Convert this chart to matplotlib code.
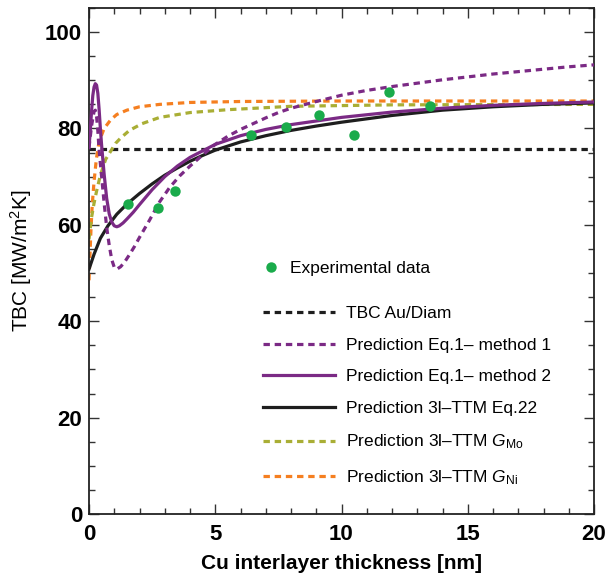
import matplotlib
matplotlib.use("Agg")
import matplotlib.pyplot as plt
from matplotlib.lines import Line2D
from matplotlib.ticker import MultipleLocator

plt.rcParams['font.family'] = ['Liberation Sans', 'DejaVu Sans']
plt.rcParams['mathtext.fontset'] = 'custom'
plt.rcParams['mathtext.rm'] = 'Liberation Sans'
plt.rcParams['mathtext.it'] = 'Liberation Sans:italic'

# ---- data ----
exp_x = [1.55, 2.75, 3.4, 6.4, 7.8, 9.1, 10.5, 11.9, 13.5]
exp_y = [64.4, 63.6, 67.0, 78.7, 80.4, 82.9, 78.7, 87.6, 84.7]

tbc_au_diam = 75.8

m1_x = [0, 0.1, 0.2, 0.25, 0.3, 0.35, 0.4, 0.5, 0.6, 0.7, 0.8, 0.9, 1.0, 1.1, 1.25, 1.4,
        1.6, 1.8, 2.0, 2.4, 2.8, 3.2, 3.6, 4.0, 4.5, 5.0, 5.5, 6.0, 6.5, 7.0, 7.5, 8.0,
        9, 10, 11, 12, 13, 14, 15, 16, 17, 18, 19, 20]
m1_y = [76, 80.5, 83.5, 83.8, 82.5, 79.5, 75.5, 70, 64.5, 59.5, 55.8, 52.8, 51.2, 50.8, 51.3, 52.2,
        53.8, 55.5, 57.4, 61, 64.8, 67.8, 70.2, 72.2, 74.5, 76.7, 78.4, 79.8, 81.0, 82.2, 83.3, 84.2,
        85.6, 86.9, 87.9, 88.7, 89.4, 90.1, 90.7, 91.3, 91.8, 92.3, 92.8, 93.2]

m2_x = [0, 0.05, 0.1, 0.15, 0.2, 0.25, 0.3, 0.35, 0.4, 0.45, 0.5, 0.6, 0.7, 0.8, 0.9, 1.0,
        1.1, 1.2, 1.35, 1.5, 1.75, 2.0, 2.5, 3.0, 3.5, 4.0, 5.0, 6.0, 7.0, 8.0, 10, 12, 14,
        16, 18, 20]
m2_y = [76, 79.5, 83.5, 86.8, 88.6, 89.3, 89, 87.3, 84, 80, 76.5, 70.5, 65.5, 62.3, 60.6, 59.8,
        59.6, 59.8, 60.4, 61.2, 62.6, 64.2, 67.3, 70, 72.2, 74, 76.7, 78.5, 79.8, 80.8, 82.3, 83.4, 84.2,
        84.8, 85.2, 85.5]

ttm_x = [0, 0.2, 0.45, 0.75, 1.1, 1.5, 2, 2.5, 3, 3.5, 4, 4.5, 5, 6, 7, 8, 9, 10, 12, 14, 16, 18, 20]
ttm_y = [50.8, 53.9, 57.2, 59.8, 62.2, 64.3, 66.5, 68.5, 70.3, 71.8, 73.2, 74.4, 75.5, 77.2, 78.5,
         79.6, 80.5, 81.3, 82.7, 83.8, 84.5, 85.0, 85.3]

gmo_x = [0, 0.1, 0.2, 0.3, 0.45, 0.66, 1.05, 1.25, 1.6, 2.1, 2.8, 4, 5.5, 8, 12, 20]
gmo_y = [57, 61.5, 64.5, 67, 70.3, 73.6, 76.9, 78, 79.6, 81, 82.3, 83.3, 83.9, 84.6, 84.9, 85.0]

gni_x = [0, 0.04, 0.08, 0.13, 0.2, 0.29, 0.4, 0.6, 0.86, 1.1, 1.5, 2, 2.8, 4, 6, 10, 20]
gni_y = [48.5, 54, 59.3, 64.3, 69, 73.6, 77.3, 80, 81.8, 82.9, 83.8, 84.5, 85.0, 85.4, 85.6, 85.7, 85.7]

labels = ["Experimental data", "TBC Au/Diam", "Prediction Eq.1\u2013 method 1",
          "Prediction Eq.1\u2013 method 2", "Prediction 3l\u2013TTM Eq.22",
          "Prediction 3l\u2013TTM $\\mathit{G}_{\\mathrm{Mo}}$",
          "Prediction 3l\u2013TTM $\\mathit{G}_{\\mathrm{Ni}}$"]

# ---- styles ----
c_black = '#1e1e1e'
c_purple = '#7b2a85'
c_olive = '#a9ae35'
c_orange = '#f57f20'
c_green = '#1aab4b'
lw = 2.3
dash = (0, (2.0, 1.5))

fig = plt.figure(figsize=(6.07, 5.78), dpi=100)
ax = fig.add_axes([89/607, 64/578, 505/607, 506/578])

ax.axhline(tbc_au_diam, color=c_black, lw=lw, ls=dash, zorder=2)
ax.plot(gni_x, gni_y, color=c_orange, lw=lw, ls=dash, zorder=2)
ax.plot(gmo_x, gmo_y, color=c_olive, lw=lw, ls=dash, zorder=2)
ax.plot(ttm_x, ttm_y, color=c_black, lw=lw, zorder=3)
ax.plot(m1_x, m1_y, color=c_purple, lw=lw, ls=dash, zorder=3)
ax.plot(m2_x, m2_y, color=c_purple, lw=lw, zorder=4)
ax.plot(exp_x, exp_y, 'o', color=c_green, ms=7.5, mec='none', zorder=5)

ax.set_xlim(0, 20)
ax.set_ylim(0, 105)
ax.xaxis.set_major_locator(MultipleLocator(5))
ax.xaxis.set_minor_locator(MultipleLocator(1))
ax.yaxis.set_major_locator(MultipleLocator(20))
ax.yaxis.set_minor_locator(MultipleLocator(5))
ax.tick_params(which='both', direction='in', top=True, right=True, width=1.0, color='#333333')
ax.tick_params(which='major', length=7, labelsize=16)
ax.tick_params(axis='x', which='major', pad=7)
ax.tick_params(axis='y', which='major', pad=5)
ax.tick_params(which='minor', length=4)
for lab in ax.get_xticklabels() + ax.get_yticklabels():
    lab.set_fontweight('bold')
for s in ax.spines.values():
    s.set_linewidth(1.3)
    s.set_color('#222222')

ax.set_xlabel("Cu interlayer thickness [nm]", fontsize=15, fontweight='bold', labelpad=7)
ax.set_ylabel("TBC [MW/m$^2$K]", fontsize=15)
ax.yaxis.set_label_coords(-0.108, 0.5)

# legends
h_exp = [Line2D([], [], marker='o', ls='none', color=c_green, ms=7.5, mec='none')]
leg1 = ax.legend(h_exp, labels[:1], loc='upper left', bbox_to_anchor=(0.344, 0.50),
                 frameon=False, fontsize=12.5, handlelength=1.0, handletextpad=0.6,
                 borderpad=0, borderaxespad=0)
ax.add_artist(leg1)
h_lines = [Line2D([], [], color=c_black, lw=lw, ls=dash),
           Line2D([], [], color=c_purple, lw=lw, ls=dash),
           Line2D([], [], color=c_purple, lw=lw),
           Line2D([], [], color=c_black, lw=lw),
           Line2D([], [], color=c_olive, lw=lw, ls=dash),
           Line2D([], [], color=c_orange, lw=lw, ls=dash)]
ax.legend(h_lines, labels[1:], loc='upper left', bbox_to_anchor=(0.344, 0.411),
          frameon=False, fontsize=12.5, handlelength=4.15, handletextpad=0.62,
          labelspacing=0.95, borderpad=0, borderaxespad=0)

fig.savefig("out.png", dpi=100)
